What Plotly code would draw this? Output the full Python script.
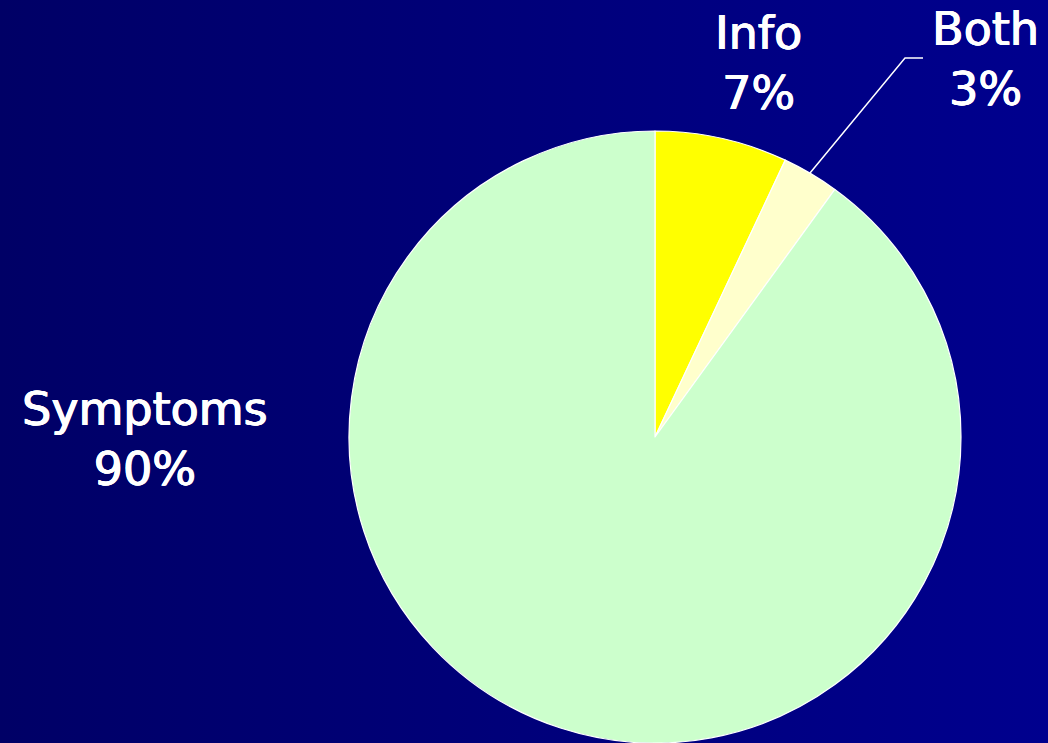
import plotly.graph_objects as go

labels = ["Info", "Both", "Symptoms"]
values = [7, 3, 90]
colors = ["#FFFF00", "#FFFFCC", "#CCFFCC"]

W, H = 1048, 743

fig = go.Figure()

# gradient background
fig.add_trace(go.Scatter(
    x=[0, 1, 1, 0, 0], y=[0, 0, 1, 1, 0], mode="lines", fill="toself",
    line=dict(width=0), hoverinfo="skip", showlegend=False,
    fillgradient=dict(type="horizontal",
                      colorscale=[[0, "#000066"], [1, "#00008E"]]),
))

fig.add_trace(go.Pie(
    labels=labels, values=values, sort=False, direction="clockwise",
    rotation=0, marker=dict(colors=colors, line=dict(color="white", width=1.2)),
    textinfo="none", hoverinfo="skip", showlegend=False,
    domain=dict(x=[349 / W, 961 / W], y=[0, 1 - 131 / H]),
))

font = dict(family="DejaVu Sans", size=46, color="white",
            shadow="0.8px 0 0 white, -0.4px 0 0 white, 0 0.4px 0 white")
ann = [
    ("Info<br>7%", 758, 63),
    ("Both<br>3%", 985, 59.5),
    ("Symptoms<br>90%", 144, 439),
]
for t, x, y in ann:
    fig.add_annotation(text=t,
                       x=x / W, y=1 - y / H, xref="paper", yref="paper",
                       showarrow=False, font=font, align="center",
                       xanchor="center", yanchor="middle")

fig.add_shape(type="path",
              path=f"M {810/W} {1-173/H} L {905/W} {1-58/H} L {923/W} {1-58/H}",
              xref="paper", yref="paper", line=dict(color="white", width=1.5))

fig.update_layout(
    width=W, height=H, margin=dict(l=0, r=0, t=0, b=0),
    paper_bgcolor="#000077", plot_bgcolor="rgba(0,0,0,0)",
    xaxis=dict(visible=False, range=[0, 1], domain=[0, 1], fixedrange=True),
    yaxis=dict(visible=False, range=[0, 1], domain=[0, 1], fixedrange=True),
    showlegend=False,
)

fig.write_html("out.html")
